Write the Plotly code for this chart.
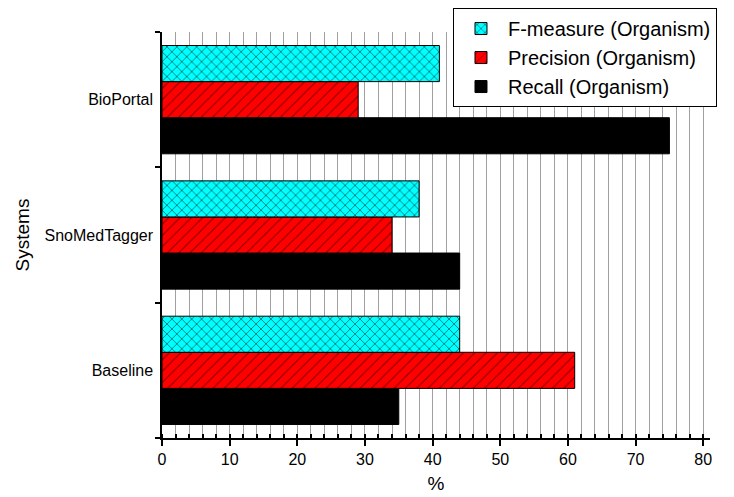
import plotly.graph_objects as go

systems = ["Baseline", "SnoMedTagger", "BioPortal"]
f_measure = [44, 38, 41]
precision = [61, 34, 29]
recall = [35, 44, 75]

fig = go.Figure()
fig.add_trace(go.Bar(
    y=systems, x=recall, orientation="h", name="Recall (Organism)",
    marker=dict(color="black", line=dict(color="black", width=1)),
))
fig.add_trace(go.Bar(
    y=systems, x=precision, orientation="h", name="Precision (Organism)",
    marker=dict(color="#ff0000", line=dict(color="black", width=1),
                pattern=dict(shape="/", fgcolor="black", bgcolor="#ff0000", size=8, solidity=0.12)),
))
fig.add_trace(go.Bar(
    y=systems, x=f_measure, orientation="h", name="F-measure (Organism)",
    marker=dict(color="#00ffff", line=dict(color="black", width=1),
                pattern=dict(shape="x", fgcolor="black", bgcolor="#00ffff", size=7, solidity=0.25)),
))

fig.update_layout(
    width=734, height=497,
    margin=dict(l=162, r=24, t=32, b=59, autoexpand=False),
    plot_bgcolor="white", paper_bgcolor="white",
    barmode="group", bargap=0.2, bargroupgap=0,
    font=dict(family="Liberation Sans, Arial, sans-serif", size=16, color="black"),
    legend=dict(
        x=0.531, y=1.059, xanchor="left", yanchor="top",
        traceorder="reversed", bordercolor="black", borderwidth=1,
        bgcolor="white", font=dict(size=20), tracegroupgap=0,
        itemwidth=44,
    ),
    xaxis=dict(
        range=[0, 81], dtick=10, tick0=0,
        showline=True, linecolor="black", linewidth=1.5,
        ticks="outside", ticklen=6, tickwidth=1.5, tickcolor="black",
        showgrid=True, gridcolor="#a0a0a0", gridwidth=1,
        minor=dict(dtick=2, ticks="inside", ticklen=4, tickcolor="black",
                   showgrid=True, gridcolor="#a0a0a0", gridwidth=1),
        zeroline=False,
        title=dict(text="%", font=dict(size=19), standoff=10),
    ),
    yaxis=dict(
        showline=True, linecolor="black", linewidth=1.5,
        ticks="outside", tickson="boundaries", ticklen=5, tickwidth=1.5, tickcolor="black",
        ticklabelstandoff=4,
        showgrid=False, zeroline=False,
        title=dict(text="Systems", font=dict(size=19), standoff=10),
    ),
)

fig.write_html("out.html", config={"displayModeBar": False},
               post_script="document.body.style.margin='0';")
